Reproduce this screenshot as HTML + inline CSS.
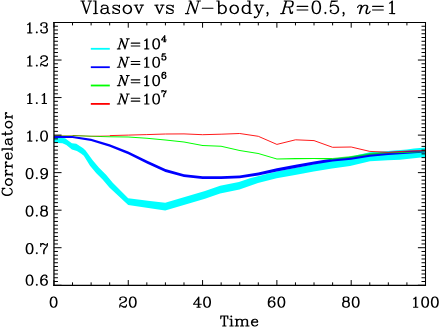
<!DOCTYPE html>
<html><head><meta charset="utf-8"><title>Vlasov vs N-body</title>
<style>
html,body{margin:0;padding:0;background:#fff;}
body{width:439px;height:327px;overflow:hidden;font-family:"Liberation Sans",sans-serif;}
svg{display:block;}
</style></head><body>
<svg width="439" height="327" viewBox="0 0 439 327">
<rect width="439" height="327" fill="#fff"/>
<g fill="#000" fill-rule="evenodd">
<path d="M168.2 4.66L166.99 5.26L166.16 6.09L166.16 7.83L166.99 8.66L172.31 11L172.73 11.41L172.73 12.17L172.31 12.58L171.33 13.07L169.14 13.07L168.16 12.58L167.63 12.05L167.11 10.96L166.8 10.69L166.43 10.69L166.16 10.92L166.09 11.19L166.13 13.79L166.43 14.09L166.8 14.09L167.11 13.83L167.37 13.3L168.8 14.09L171.67 14.09L172.88 13.49L173.71 12.66L173.71 10.32L172.88 9.49L167.56 7.15L167.14 6.73L167.14 6.58L167.56 6.17L168.54 5.68L170.73 5.68L171.71 6.17L172.24 6.7L172.77 7.79L173.07 8.05L173.45 8.05L173.71 7.83L173.78 7.56L173.75 4.96L173.45 4.66L173.07 4.66L172.77 4.92L172.5 5.45L171.07 4.66ZM154.28 4.7L154.01 5.15L154.28 5.6L155.41 5.71L158.88 13.83L159.18 14.09L159.64 14.05L159.94 13.68L163.33 5.71L164.47 5.6L164.69 5.34L164.65 4.88L164.2 4.62L160.58 4.62L160.13 4.88L160.09 5.34L160.39 5.64L162.16 5.75L159.64 11.6L157.15 5.71L158.43 5.6L158.65 5.34L158.62 4.88L158.16 4.62ZM133.75 4.7L133.49 5.15L133.75 5.6L134.88 5.71L138.36 13.83L138.66 14.09L139.11 14.05L139.41 13.68L142.81 5.71L143.94 5.6L144.17 5.34L144.13 4.88L143.68 4.62L140.05 4.62L139.6 4.88L139.56 5.34L139.86 5.64L141.64 5.75L139.11 11.6L136.62 5.71L137.9 5.6L138.13 5.34L138.09 4.88L137.64 4.62ZM126.77 4.62L124.7 5.3L123.38 6.58L122.66 8.54L122.62 9.98L123.3 12.05L124.58 13.37L126.55 14.09L127.98 14.13L130.05 13.45L131.37 12.17L132.09 10.2L132.13 8.77L131.45 6.7L130.17 5.37L128.21 4.66ZM126.88 5.68L127.87 5.68L128.85 6.17L129.94 7.26L130.47 8.81L130.47 9.94L129.94 11.49L128.85 12.58L127.87 13.07L126.88 13.07L125.9 12.58L124.81 11.49L124.28 9.94L124.28 8.81L124.81 7.26L125.9 6.17ZM114.47 4.66L113.26 5.26L112.43 6.09L112.43 7.83L113.26 8.66L118.58 11L119 11.41L119 12.17L118.58 12.58L117.6 13.07L115.41 13.07L114.43 12.58L113.91 12.05L113.38 10.96L113.08 10.69L112.7 10.69L112.43 10.92L112.36 11.19L112.4 13.79L112.7 14.09L113.08 14.09L113.38 13.83L113.64 13.3L115.08 14.09L117.94 14.09L119.15 13.49L119.98 12.66L119.98 10.32L119.15 9.49L113.83 7.15L113.41 6.73L113.41 6.58L113.83 6.17L114.81 5.68L117 5.68L117.98 6.17L118.51 6.7L119.04 7.79L119.34 8.05L119.72 8.05L119.98 7.83L120.06 7.56L120.02 4.96L119.72 4.66L119.34 4.66L119.04 4.92L118.77 5.45L117.34 4.66ZM101.04 5.98L100.89 6.36L100.93 7.15L101.15 7.41L101.42 7.49L102.28 7.41L102.55 6.96L102.47 6.13L103.34 5.68L105.53 5.68L106.51 6.17L106.93 6.58L106.93 7.34L106.59 7.68L103 8.28L101.3 8.85L100.93 9.15L100.32 10.36L100.28 11.79L100.93 13.22L101.15 13.45L103 14.09L105.04 14.13L106.47 13.49L107.3 12.69L107.83 13.49L109.04 14.09L109.87 14.13L110.32 13.86L110.32 13.34L110.06 13.11L109.49 13.07L109.08 12.66L108.59 11.68L108.55 7.34L107.94 6.13L107.23 5.37L105.87 4.66L103.23 4.62L101.79 5.26ZM106.93 8.73L106.93 11.56L105.91 12.58L104.93 13.07L103.34 13.07L102.4 12.58L101.94 11.68L101.94 10.69L102.44 9.75L103.42 9.26ZM93.38 0.43L93.12 0.66L93.04 0.92L93.3 1.38L94.85 1.49L94.85 13.03L93.38 13.11L93.08 13.41L93.08 13.79L93.3 14.05L93.57 14.13L97.98 14.09L98.25 13.86L98.32 13.6L98.06 13.15L96.51 13.03L96.47 0.73L96.25 0.47L95.98 0.39ZM80.7 0.43L80.4 0.73L80.44 1.19L80.7 1.41L81.76 1.53L85.8 13.71L86.06 14.05L86.51 14.09L86.85 13.71L90.89 1.53L92.02 1.38L92.25 1.11L92.25 0.73L92.02 0.47L91.76 0.39L88.13 0.39L87.68 0.66L87.64 1.11L87.95 1.41L89.76 1.45L89.8 1.56L86.63 11L83.46 1.56L83.49 1.45L84.78 1.38L85 1.11L84.97 0.66L84.51 0.39ZM188.82 0.43L188.56 0.66L188.48 0.92L188.75 1.38L190.07 1.45L190.11 1.56L186.79 13.07L185.2 13.11L184.9 13.41L184.9 13.79L185.13 14.05L185.39 14.13L189.01 14.13L189.47 13.86L189.5 13.41L189.28 13.15L187.96 13.07L187.92 12.96L190.6 3.68L194.48 13.64L194.79 14.05L195.24 14.09L195.62 13.6L199.05 1.49L200.67 1.41L200.97 1.11L200.97 0.73L200.75 0.47L200.48 0.39L196.86 0.39L196.41 0.66L196.37 1.11L196.6 1.38L197.92 1.45L197.96 1.56L195.28 10.85L191.28 0.66L190.82 0.39ZM267.43 11.86L267.06 12.02L266.45 12.62L266.3 13L266.45 13.37L267.06 13.98L267.47 14.17L267.02 15.07L266.34 15.83L266.38 16.28L266.83 16.54L267.21 16.39L267.92 15.64L268.57 14.2L268.53 12.81L267.81 12.02ZM201.71 8.17L201.78 8.43L202.23 8.69L213.1 8.69L213.36 8.62L213.63 8.17L213.55 7.9L213.1 7.64L202.23 7.64L201.97 7.71ZM264.08 4.7L260.19 4.62L259.74 4.88L259.7 5.34L260 5.64L261.77 5.75L259.25 11.6L256.76 5.71L258.04 5.6L258.27 5.34L258.23 4.88L257.77 4.62L254.15 4.62L253.7 4.88L253.66 5.34L253.89 5.6L255.02 5.71L258.38 13.52L257.36 15.68L256.23 16.81L255.85 17L255.13 16.24L254.76 16.09L254.38 16.24L253.78 16.84L253.66 17.41L254.38 18.2L254.76 18.35L255.59 18.32L256.79 17.71L258.27 16.24L259.55 13.68L262.94 5.71L264.08 5.6L264.34 5.15ZM233.63 4.62L231.55 5.3L230.23 6.58L229.51 8.54L229.48 9.98L230.16 12.05L231.44 13.37L233.4 14.09L234.83 14.13L236.91 13.45L238.23 12.17L238.95 10.2L238.98 8.77L238.31 6.7L237.02 5.37L235.06 4.66ZM233.74 5.68L234.72 5.68L235.7 6.17L236.8 7.26L237.32 8.81L237.32 9.94L236.8 11.49L235.7 12.58L234.72 13.07L233.74 13.07L232.76 12.58L231.66 11.49L231.14 9.94L231.14 8.81L231.66 7.26L232.76 6.17ZM247.32 0.43L247.06 0.66L246.98 0.92L247.25 1.38L248.79 1.49L248.79 5.6L248.34 5.26L246.91 4.62L245.47 4.66L243.51 5.37L242.23 6.7L241.59 8.54L241.59 10.2L242.15 11.9L243.63 13.45L245.47 14.09L247.13 14.09L248.34 13.49L248.76 13.11L248.83 13.79L249.13 14.09L251.93 14.09L252.19 13.86L252.27 13.6L252 13.15L250.45 13.03L250.42 0.73L250.19 0.47L249.93 0.39ZM245.81 5.68L246.79 5.68L247.78 6.17L248.79 7.19L248.79 11.56L247.78 12.58L246.79 13.07L245.81 13.07L244.83 12.58L243.74 11.49L243.21 9.94L243.21 8.81L243.74 7.26L244.83 6.17ZM216.46 0.47L216.19 0.92L216.46 1.38L218.01 1.49L218.08 13.86L218.53 14.13L218.84 14.02L219.33 14.09L219.63 13.79L219.7 13.11L220.12 13.49L221.55 14.13L222.99 14.09L224.84 13.45L226.23 12.05L226.87 10.2L226.87 8.54L226.23 6.7L224.84 5.3L222.76 4.62L221.33 4.66L220.12 5.26L219.7 5.64L219.59 0.66L219.14 0.39ZM221.67 5.68L222.65 5.68L223.63 6.17L224.72 7.26L225.25 8.81L225.25 9.94L224.72 11.49L223.63 12.58L222.65 13.07L221.67 13.07L220.68 12.58L219.67 11.56L219.67 7.19L220.68 6.17ZM283.95 0.47L283.69 0.92L283.95 1.38L285.27 1.45L285.31 1.56L282.03 13.03L280.41 13.11L280.1 13.41L280.14 13.86L280.59 14.13L285.08 14.05L285.35 13.6L285.08 13.15L283.76 13.07L283.73 12.96L285.27 7.56L287.73 7.49L288.71 7.98L289.16 8.43L289.69 12.88L289.88 13.37L290.67 14.09L292.33 14.05L292.56 13.83L293.16 12.62L293.16 11.6L292.86 11.3L292.4 11.34L292.18 11.6L292.14 12.17L291.84 12.47L291.69 12.47L291.31 12.09L290.18 8.05L289.76 7.53L290.48 7.45L292.18 6.88L293.12 6.02L293.8 3.94L293.76 2.51L293.16 1.3L292.78 1L290.86 0.39ZM287.01 1.49L290.74 1.45L291.65 1.9L292.14 2.85L292.14 3.9L291.61 5.45L291.12 5.94L290.14 6.43L285.65 6.43ZM343.5 11.86L343.12 12.02L342.52 12.62L342.37 13L342.52 13.37L343.12 13.98L343.54 14.17L343.08 15.07L342.41 15.83L342.44 16.28L342.9 16.54L343.27 16.39L343.99 15.64L344.63 14.2L344.59 12.81L343.88 12.02ZM325.39 11.86L325.01 12.02L324.41 12.62L324.26 13L324.41 13.37L325.01 13.98L325.39 14.13L325.77 13.98L326.37 13.37L326.52 13L326.37 12.62L325.77 12.02ZM296.49 9.98L296.56 10.24L297.02 10.51L307.88 10.51L308.15 10.43L308.41 9.98L308.33 9.71L307.88 9.45L297.02 9.45L296.75 9.53ZM296.49 6.36L296.56 6.62L297.02 6.88L307.88 6.88L308.15 6.81L308.41 6.36L308.33 6.09L307.88 5.83L297.02 5.83L296.75 5.9ZM331.24 0.43L330.97 0.66L329.69 6.81L329.77 7.22L330.03 7.45L330.41 7.45L331.73 6.2L333.27 5.68L334.94 5.68L335.92 6.17L337.01 7.26L337.54 8.81L337.54 9.94L337.01 11.49L335.92 12.58L334.94 13.07L333.27 13.07L331.73 12.54L331.24 12.05L331.05 11.68L331.8 10.96L331.92 10.39L331.01 9.49L330.56 9.53L329.84 10.2L329.69 10.58L329.73 11.41L330.33 12.62L331.05 13.37L333.01 14.09L335.05 14.13L336.97 13.52L338.52 12.05L339.16 10.2L339.16 8.54L338.44 6.58L337.12 5.3L335.27 4.66L333.24 4.62L331.12 5.34L331.77 2.05L334.6 2.05L337.43 1.49L337.92 1.19L337.95 0.73L337.73 0.47L337.46 0.39ZM315.73 0.39L313.65 1.07L312.26 3.04L311.58 6.2L311.58 8.32L312.18 11.3L313.47 13.3L313.81 13.52L315.5 14.09L316.94 14.13L319.01 13.45L320.41 11.49L321.09 8.32L321.09 6.2L320.48 3.22L319.2 1.22L318.86 1L317.16 0.43ZM315.84 1.45L316.82 1.45L317.81 1.94L318.33 2.47L318.86 3.53L319.43 6.36L319.43 8.17L318.86 11L318.33 12.05L317.81 12.58L316.82 13.07L315.84 13.07L314.86 12.58L314.33 12.05L313.81 11L313.24 8.17L313.24 6.36L313.81 3.53L314.33 2.47L314.86 1.94ZM357.02 7.34L357.05 7.83L357.32 8.05L357.69 8.05L358 7.79L358.52 6.7L359.54 5.68L360.3 5.68L360.6 5.98L360.6 6.96L358.83 13.34L358.83 13.79L359.13 14.09L359.62 14.02L359.92 14.13L360.37 13.86L361.62 9.56L362.75 7.3L363.88 6.17L364.86 5.68L365.73 5.68L366.64 6.58L366.64 7.53L365.43 11.19L365.47 13.18L366.18 13.98L366.56 14.13L368.64 14.05L369.96 12.77L370.67 11.41L370.64 10.92L370.37 10.69L369.99 10.69L369.69 10.96L369.16 12.05L368.15 13.07L367.39 13.07L367.09 12.77L367.09 11.22L368.26 7.79L368.3 6.36L368.15 5.98L367.54 5.37L366.18 4.66L364.52 4.66L363.32 5.26L362.3 6.24L362.18 5.49L361.39 4.7L359.13 4.66L357.73 5.98ZM371.95 9.98L372.02 10.24L372.48 10.51L383.34 10.51L383.61 10.43L383.87 9.98L383.8 9.71L383.34 9.45L372.48 9.45L372.21 9.53ZM371.95 6.36L372.02 6.62L372.48 6.88L383.34 6.88L383.61 6.81L383.87 6.36L383.8 6.09L383.34 5.83L372.48 5.83L372.21 5.9ZM392.59 0.43L392.02 0.54L390.25 2.32L389.15 2.85L388.89 3.15L388.93 3.6L389.38 3.87L390.81 3.22L391.27 2.88L391.27 13.03L389.12 13.15L388.85 13.6L388.93 13.86L389.19 14.09L394.81 14.13L395.08 14.05L395.31 13.79L395.31 13.41L395 13.11L392.93 13.03L392.93 0.92L392.85 0.66Z"/>
<path d="M254.32 318.74L252.64 319.28L251.53 320.33L250.93 321.95L250.9 323.12L251.44 324.8L252.49 325.91L254.11 326.51L255.28 326.54L257.11 325.91L258.16 324.8L258.22 324.56L258.1 324.23L257.83 324.05L257.44 324.08L256.39 325.07L255.22 325.46L254.44 325.46L253.72 325.1L252.85 324.23L252.46 323.06L252.46 322.73L257.83 322.67L258.01 322.58L258.19 322.31L258.22 321.2L257.71 320.03L256.93 319.25L255.76 318.74ZM252.67 321.59L252.85 321.05L253.72 320.18L254.44 319.82L255.64 319.82L256.3 320.15L256.66 320.84L256.63 321.62ZM234.64 319.04L234.61 319.43L234.88 319.76L236.02 319.85L236.02 325.43L235.12 325.46L234.79 325.58L234.58 326L234.64 326.24L234.88 326.48L238.48 326.54L238.9 326.33L239.02 326L238.81 325.58L238.48 325.46L237.58 325.43L237.58 320.96L238.33 320.21L239.5 319.82L240.28 319.82L240.94 320.15L241.3 320.84L241.3 325.43L240.4 325.46L240.07 325.58L239.86 326L239.92 326.24L240.16 326.48L243.76 326.54L244.18 326.33L244.3 326L244.09 325.58L243.76 325.46L242.86 325.43L242.86 320.96L243.61 320.21L244.78 319.82L245.56 319.82L246.22 320.15L246.58 320.84L246.58 325.43L245.68 325.46L245.35 325.58L245.14 326L245.26 326.33L245.68 326.54L249.04 326.54L249.28 326.48L249.52 326.24L249.55 325.85L249.28 325.52L248.14 325.43L248.14 320.72L247.63 319.55L247.24 319.22L245.89 318.77L244.72 318.74L243.16 319.22L242.47 319.79L242.08 319.28L240.4 318.74L239.23 318.77L237.64 319.37L237.46 318.95L237.04 318.74L235.12 318.74L234.88 318.8ZM229.6 318.8L229.36 319.04L229.3 319.28L229.51 319.7L229.84 319.82L230.74 319.85L230.74 325.43L229.6 325.52L229.36 325.76L229.36 326.24L229.6 326.48L229.84 326.54L233.44 326.48L233.68 326.24L233.74 326L233.53 325.58L233.2 325.46L232.3 325.43L232.24 319.04L232 318.8L231.76 318.74ZM231.28 315.38L230.89 315.53L230.41 316.01L230.26 316.4L230.41 316.79L230.89 317.27L231.28 317.42L231.67 317.27L232.15 316.79L232.3 316.4L232.15 316.01L231.67 315.53ZM220.48 315.44L220.24 315.68L220.18 315.92L220.18 318.8L220.24 319.04L220.48 319.28L220.87 319.31L221.2 319.04L221.68 316.46L223.54 316.49L223.54 325.43L222.4 325.52L222.16 325.76L222.16 326.24L222.4 326.48L222.64 326.54L226.24 326.48L226.48 326.24L226.54 326L226.33 325.58L226 325.46L225.1 325.43L225.1 316.49L226.96 316.46L227.38 318.89L227.68 319.28L228.07 319.31L228.34 319.13L228.46 318.8L228.4 315.68L228.16 315.44L227.92 315.38Z"/>
<path d="M4.95 119L5.2 119.24L5.44 119.3L5.86 119.09L5.98 118.76L6.01 117.85L11.63 117.85L11.72 119L11.96 119.24L12.44 119.24L12.68 119L12.74 118.76L12.68 115.14L12.44 114.9L12.2 114.84L11.78 115.05L11.66 115.38L11.63 116.28L8.4 116.28L7.22 115.89L6.34 115.02L5.98 114.29L5.98 113.87L6.4 113.99L6.8 113.84L7.37 113.21L7.37 112.72L6.65 112L5.68 112L5.05 112.57L4.92 112.81L4.89 114.41L5.41 115.59L6.01 116.25L5.29 116.31L4.95 116.59ZM4.89 125.04L5.44 126.73L6.49 127.85L8.12 128.45L9.3 128.48L10.99 127.94L12.11 126.88L12.71 125.25L12.74 124.07L12.2 122.38L11.14 121.27L9.51 120.66L8.34 120.63L6.65 121.17L5.53 122.23L4.92 123.86ZM5.98 124.92L5.98 124.19L6.34 123.47L7.22 122.59L8.4 122.2L9.24 122.2L10.42 122.59L11.29 123.47L11.66 124.19L11.66 124.92L11.29 125.64L10.42 126.52L9.24 126.91L8.4 126.91L7.22 126.52L6.34 125.64ZM6.01 144.75L6.4 144.9L7.04 144.87L7.31 144.69L7.43 144.36L7.43 143.88L7.31 143.54L6.89 143.33L6.28 143.36L5.98 142.79L5.98 141.1L6.34 140.37L6.65 140.07L7.13 140.07L7.37 140.34L7.82 143.12L8.28 144.48L8.49 144.78L9.51 145.32L10.75 145.38L11.02 145.32L12.14 144.69L12.71 143.12L12.74 141.46L12.23 140.28L11.69 139.68L12.14 139.38L12.68 138.35L12.74 137.6L12.53 137.17L12.2 137.05L11.87 137.17L11.69 137.45L11.66 137.84L11.35 138.14L10.63 138.5L7.22 138.53L6.19 139.02L5.53 139.62L4.89 140.98L4.89 142.91L5.41 144.09ZM8.46 140.07L10.51 140.07L11.29 140.86L11.66 141.58L11.66 142.79L11.29 143.48L10.63 143.82L9.91 143.82L9.21 143.45L8.85 142.73ZM4.89 156.43L5.44 158.12L6.49 159.24L8.12 159.84L9.3 159.87L10.99 159.33L12.11 158.28L12.71 156.64L12.74 155.47L12.11 153.63L10.99 152.57L10.75 152.51L10.42 152.63L10.24 152.9L10.27 153.29L11.26 154.35L11.66 155.53L11.66 156.31L11.29 157.04L10.42 157.91L9.24 158.31L8.91 158.31L8.85 152.9L8.76 152.72L8.49 152.54L7.37 152.51L6.19 153.02L5.41 153.81L4.89 154.98ZM7.76 158.09L7.22 157.91L6.34 157.04L5.98 156.31L5.98 155.11L6.31 154.44L7.01 154.08L7.79 154.11ZM4.95 168.27L5.2 168.51L5.44 168.57L5.86 168.36L5.98 168.03L6.01 167.12L11.63 167.12L11.72 168.27L11.96 168.51L12.44 168.51L12.68 168.27L12.74 168.03L12.68 164.4L12.44 164.16L12.2 164.1L11.78 164.31L11.66 164.64L11.63 165.55L8.4 165.55L7.22 165.16L6.34 164.28L5.98 163.56L5.98 163.14L6.4 163.26L6.8 163.11L7.37 162.47L7.37 161.99L6.65 161.26L5.68 161.26L5.05 161.84L4.92 162.08L4.89 163.68L5.41 164.86L6.01 165.52L5.29 165.58L4.95 165.85ZM4.95 176.48L5.2 176.72L5.44 176.78L5.86 176.57L5.98 176.24L6.01 175.33L11.63 175.33L11.72 176.48L11.96 176.72L12.44 176.72L12.68 176.48L12.74 176.24L12.68 172.61L12.44 172.37L12.2 172.31L11.78 172.52L11.66 172.86L11.63 173.76L8.4 173.76L7.22 173.37L6.34 172.49L5.98 171.77L5.98 171.35L6.4 171.47L6.8 171.32L7.37 170.68L7.37 170.2L6.65 169.47L5.68 169.47L5.05 170.05L4.92 170.29L4.89 171.89L5.41 173.07L6.01 173.73L5.29 173.79L4.95 174.06ZM4.89 182.52L5.44 184.21L6.49 185.32L8.12 185.93L9.3 185.96L10.99 185.41L12.11 184.36L12.71 182.73L12.74 181.55L12.2 179.86L11.14 178.74L9.51 178.14L8.34 178.11L6.65 178.65L5.53 179.71L4.92 181.34ZM5.98 182.39L5.98 181.67L6.34 180.95L7.22 180.07L8.4 179.68L9.24 179.68L10.42 180.07L11.29 180.95L11.66 181.67L11.66 182.39L11.29 183.12L10.42 183.99L9.24 184.39L8.4 184.39L7.22 183.99L6.34 183.12ZM1.54 134.37L1.72 134.64L2.06 134.76L4.86 134.76L4.95 135.91L5.2 136.15L5.59 136.18L5.77 136.09L5.95 135.82L6.01 134.76L10.27 134.76L11.96 134.22L12.23 133.94L12.68 133.04L12.71 131.65L12.05 130.41L11.02 129.87L10.6 129.84L10.27 130.11L10.24 130.5L10.54 130.86L11.32 131.26L11.66 131.92L11.66 132.53L11.38 132.8L10.21 133.19L6.01 133.19L5.95 131.65L5.77 131.38L5.44 131.26L5.11 131.38L4.92 131.65L4.86 133.19L1.82 133.25L1.54 133.58ZM1.57 150.88L1.82 151.12L2.06 151.18L2.48 150.97L2.6 150.64L2.63 149.73L11.63 149.73L11.72 150.88L11.96 151.12L12.44 151.12L12.68 150.88L12.74 150.64L12.68 147.02L12.44 146.77L12.2 146.71L11.78 146.92L11.66 147.26L11.63 148.16L1.82 148.22L1.57 148.46L1.51 148.71ZM1.54 188.16L1.54 188.46L1.72 188.73L2.48 189.04L2 189.64L1.54 191L1.54 192.39L2.15 194.02L3.29 195.1L4.2 195.56L5.71 196.07L8.34 196.1L9.91 195.62L10.96 195.1L12.2 193.87L12.71 192.39L12.71 191L12.11 189.37L10.96 188.28L9.79 187.77L9.45 187.89L9.24 188.31L9.45 188.73L10.39 189.22L11.26 190.09L11.66 191.27L11.66 192.05L11.29 192.78L10.39 193.68L9.54 194.11L8.28 194.53L5.98 194.53L4.71 194.11L3.87 193.68L2.96 192.78L2.6 192.05L2.6 191.27L2.99 190.09L3.84 189.25L5.29 188.73L5.5 188.31L5.38 187.98L4.95 187.77L2.06 187.77L1.72 187.89Z"/>
<path d="M36.82 283.79L36.43 283.94L35.94 284.42L35.79 284.82L35.94 285.21L36.43 285.69L36.82 285.84L37.21 285.69L37.7 285.21L37.85 284.82L37.7 284.42L37.21 283.94ZM45.53 274.59L43.87 274.62L42.23 275.23L41.15 276.38L40.69 277.28L40.18 279.28L40.15 282.4L40.63 283.97L40.78 284.24L41.75 285.21L43.38 285.81L44.78 285.81L46.41 285.21L47.38 284.24L47.98 282.61L47.98 281.7L47.47 280.22L46.41 279.1L46.14 278.95L44.78 278.49L44.08 278.46L42.51 278.95L41.72 279.55L42.14 277.8L42.57 276.95L43.47 276.04L44.2 275.68L45.41 275.68L46.11 276.04L46.17 276.16L45.62 276.68L45.47 277.07L45.62 277.47L46.26 278.04L46.74 278.04L47.38 277.47L47.53 277.07L47.53 276.59L47.01 275.41L46.71 275.11ZM44.44 279.55L45.17 279.92L46.05 280.79L46.44 281.97L46.44 282.34L46.05 283.52L45.17 284.39L44.44 284.76L43.72 284.76L42.99 284.39L42.11 283.52L41.72 282.34L41.72 281.97L42.11 280.79L42.96 279.95L44.14 279.55ZM29.08 274.59L27.29 275.2L26.11 276.95L25.63 279.37L25.63 281.06L26.11 283.49L27.14 285.09L27.5 285.36L28.86 285.81L30.04 285.84L31.83 285.24L33.01 283.49L33.49 281.06L33.49 279.37L33.01 276.95L31.98 275.35L31.62 275.08L30.26 274.62ZM29.2 275.68L29.92 275.68L30.65 276.04L31.07 276.47L31.47 277.25L31.92 279.49L31.92 280.94L31.47 283.18L31.07 283.97L30.65 284.39L29.92 284.76L29.2 284.76L28.47 284.39L28.05 283.97L27.65 283.18L27.2 280.94L27.2 279.49L27.65 277.25L28.05 276.47L28.47 276.04Z"/>
<path d="M36.82 252.18L36.43 252.34L35.94 252.82L35.79 253.21L35.94 253.61L36.43 254.09L36.82 254.24L37.21 254.09L37.7 253.61L37.85 253.21L37.7 252.82L37.21 252.34ZM40.45 243.05L40.21 243.29L40.15 243.53L40.15 246.44L40.21 246.68L40.45 246.92L40.84 246.95L41.12 246.77L41.24 246.44L41.24 245.59L41.57 244.92L42.26 244.56L43.02 244.56L45.32 245.5L46.71 245.5L46.53 246.1L44.05 248.64L43.6 249.55L43.08 251.06L43.11 253.94L43.44 254.21L44.32 254.18L44.56 253.94L44.62 253.7L44.62 251.34L45.05 250.07L45.53 249.1L47.53 246.56L48.01 244.98L47.95 243.29L47.71 243.05L47.23 243.05L46.95 243.32L46.56 244.14L46.26 244.44L45.65 244.44L43.26 243.02L41.99 243.02L41.75 243.14L41.27 243.62L41.02 243.11L40.69 242.99ZM29.08 242.99L27.29 243.59L26.11 245.35L25.63 247.77L25.63 249.46L26.11 251.88L27.14 253.48L27.5 253.76L28.86 254.21L30.04 254.24L31.83 253.64L33.01 251.88L33.49 249.46L33.49 247.77L33.01 245.35L31.98 243.74L31.62 243.47L30.26 243.02ZM29.2 244.08L29.92 244.08L30.65 244.44L31.07 244.86L31.47 245.65L31.92 247.89L31.92 249.34L31.47 251.58L31.07 252.37L30.65 252.79L29.92 253.15L29.2 253.15L28.47 252.79L28.05 252.37L27.65 251.58L27.2 249.34L27.2 247.89L27.65 245.65L28.05 244.86L28.47 244.44Z"/>
<path d="M36.82 214.65L36.43 214.8L35.94 215.28L35.79 215.68L35.94 216.07L36.43 216.55L36.82 216.71L37.21 216.55L37.7 216.07L37.85 215.68L37.7 215.28L37.21 214.8ZM42.9 205.48L41.33 206.06L40.69 207.18L40.66 209.05L41.15 210.08L41.42 210.35L40.78 210.93L40.21 212.02L40.18 214.38L40.78 215.59L41.54 216.22L43.11 216.71L45.26 216.67L46.89 216.07L47.5 215.4L47.98 214.38L47.95 212.02L47.38 210.93L46.74 210.35L47.01 210.08L47.5 209.05L47.5 207.3L47.01 206.27L46.62 205.94L45.05 205.45ZM43.23 210.9L44.93 210.9L45.65 211.26L46.08 211.68L46.44 212.41L46.44 214.1L46.08 214.83L45.65 215.25L44.93 215.62L43.23 215.62L42.51 215.25L42.08 214.83L41.72 214.1L41.72 212.41L42.08 211.68L42.51 211.26ZM42.54 206.9L43.23 206.54L44.93 206.54L45.59 206.87L45.96 207.57L45.96 208.78L45.62 209.45L44.93 209.81L43.23 209.81L42.57 209.48L42.2 208.78L42.2 207.57ZM29.08 205.45L27.29 206.06L26.11 207.81L25.63 210.23L25.63 211.93L26.11 214.35L27.14 215.95L27.5 216.22L28.86 216.67L30.04 216.71L31.83 216.1L33.01 214.35L33.49 211.93L33.49 210.23L33.01 207.81L31.98 206.21L31.62 205.94L30.26 205.48ZM29.2 206.54L29.92 206.54L30.65 206.9L31.07 207.33L31.47 208.11L31.92 210.35L31.92 211.8L31.47 214.04L31.07 214.83L30.65 215.25L29.92 215.62L29.2 215.62L28.47 215.25L28.05 214.83L27.65 214.04L27.2 211.8L27.2 210.35L27.65 208.11L28.05 207.33L28.47 206.9Z"/>
<path d="M36.82 177.11L36.43 177.26L35.94 177.75L35.79 178.14L35.94 178.53L36.43 179.02L36.82 179.17L37.21 179.02L37.7 178.53L37.85 178.14L37.7 177.75L37.21 177.26ZM44.78 167.95L43.38 167.95L41.75 168.55L40.78 169.52L40.18 171.15L40.18 172.06L40.69 173.54L41.75 174.66L42.02 174.81L43.38 175.27L44.08 175.3L45.65 174.81L46.44 174.21L46.02 175.96L45.59 176.81L44.68 177.72L43.96 178.08L42.75 178.08L42.05 177.72L41.99 177.6L42.54 177.08L42.69 176.69L42.54 176.3L41.9 175.72L41.42 175.72L40.78 176.3L40.63 176.69L40.63 177.17L41.15 178.35L41.45 178.66L42.63 179.17L44.29 179.14L45.92 178.53L47.01 177.38L47.47 176.48L47.98 174.48L48.01 171.36L47.53 169.79L47.38 169.52L46.41 168.55ZM44.44 169.01L45.17 169.37L46.05 170.25L46.44 171.43L46.44 171.79L46.05 172.97L45.2 173.82L44.02 174.21L43.72 174.21L42.99 173.85L42.11 172.97L41.72 171.79L41.72 171.43L42.11 170.25L42.99 169.37L43.72 169.01ZM29.08 167.92L27.29 168.52L26.11 170.28L25.63 172.7L25.63 174.39L26.11 176.81L27.14 178.41L27.5 178.69L28.86 179.14L30.04 179.17L31.83 178.56L33.01 176.81L33.49 174.39L33.49 172.7L33.01 170.28L31.98 168.67L31.62 168.4L30.26 167.95ZM29.2 169.01L29.92 169.01L30.65 169.37L31.07 169.79L31.47 170.58L31.92 172.82L31.92 174.27L31.47 176.51L31.07 177.29L30.65 177.72L29.92 178.08L29.2 178.08L28.47 177.72L28.05 177.29L27.65 176.51L27.2 174.27L27.2 172.82L27.65 170.58L28.05 169.79L28.47 169.37Z"/>
<path d="M36.82 139.58L36.43 139.73L35.94 140.21L35.79 140.61L35.94 141L36.43 141.48L36.82 141.63L37.21 141.48L37.7 141L37.85 140.61L37.7 140.21L37.21 139.73ZM43.6 130.38L41.81 130.99L40.63 132.74L40.15 135.16L40.15 136.85L40.63 139.27L41.66 140.88L42.02 141.15L43.38 141.6L44.56 141.63L46.35 141.03L47.53 139.27L48.01 136.85L48.01 135.16L47.53 132.74L46.5 131.14L46.14 130.86L44.78 130.41ZM43.72 131.47L44.44 131.47L45.17 131.83L45.59 132.26L45.99 133.04L46.44 135.28L46.44 136.73L45.99 138.97L45.59 139.76L45.17 140.18L44.44 140.54L43.72 140.54L42.99 140.18L42.57 139.76L42.17 138.97L41.72 136.73L41.72 135.28L42.17 133.04L42.57 132.26L42.99 131.83ZM30.19 130.41L29.89 130.41L29.65 130.53L28.23 131.95L27.41 132.35L27.11 132.71L27.2 133.19L27.62 133.41L29.02 132.8L29.02 140.51L27.62 140.54L27.29 140.67L27.08 141.09L27.2 141.42L27.47 141.6L31.98 141.63L32.31 141.51L32.49 141.24L32.46 140.85L32.22 140.61L30.59 140.51L30.59 130.93L30.47 130.59Z"/>
<path d="M36.82 102.04L36.43 102.19L35.94 102.68L35.79 103.07L35.94 103.46L36.43 103.95L36.82 104.1L37.21 103.95L37.7 103.46L37.85 103.07L37.7 102.68L37.21 102.19ZM44.71 92.88L44.41 92.88L44.17 93L42.75 94.42L41.93 94.81L41.63 95.17L41.72 95.66L42.14 95.87L43.54 95.26L43.54 102.98L42.14 103.01L41.81 103.13L41.6 103.55L41.72 103.89L41.99 104.07L46.5 104.1L46.83 103.98L47.01 103.7L46.98 103.31L46.74 103.07L45.11 102.98L45.11 93.39L44.99 93.06ZM30.19 92.88L29.89 92.88L29.65 93L28.23 94.42L27.41 94.81L27.11 95.17L27.2 95.66L27.62 95.87L29.02 95.26L29.02 102.98L27.62 103.01L27.29 103.13L27.08 103.55L27.2 103.89L27.47 104.07L31.98 104.1L32.31 103.98L32.49 103.7L32.46 103.31L32.22 103.07L30.59 102.98L30.59 93.39L30.47 93.06Z"/>
<path d="M36.82 64.51L36.43 64.66L35.94 65.14L35.79 65.53L35.94 65.93L36.43 66.41L36.82 66.56L37.21 66.41L37.7 65.93L37.85 65.53L37.7 65.14L37.21 64.66ZM41.54 55.79L40.78 56.43L40.15 57.79L40.21 58.52L40.93 59.24L41.18 59.3L41.57 59.15L42.05 58.67L42.17 58.42L42.17 58.12L42.05 57.88L41.51 57.37L41.6 57.18L41.99 56.79L43.17 56.4L44.93 56.4L45.65 56.76L46.08 57.18L46.44 57.91L46.44 58.64L45.99 59.42L44.81 60.21L41.93 61.63L40.78 62.72L40.18 64.35L40.21 66.26L40.45 66.5L40.93 66.5L41.21 66.17L41.24 65.29L41.42 65.11L42.02 65.11L44.41 66.53L46.74 66.5L47.38 65.93L47.95 64.84L48.01 63.6L47.95 63.36L47.71 63.11L47.32 63.08L47.04 63.26L46.92 63.6L46.92 64.32L46.62 64.63L45.89 64.99L44.65 64.99L42.36 64.05L41.45 63.99L41.63 63.45L42.51 62.57L43.35 62.15L45.68 61.24L47.26 60.21L47.5 59.94L47.95 59.03L47.95 57.52L47.38 56.43L46.89 55.94L45.26 55.34L43.11 55.31ZM30.19 55.34L29.89 55.34L29.65 55.46L28.23 56.88L27.41 57.28L27.11 57.64L27.2 58.12L27.62 58.33L29.02 57.73L29.02 65.44L27.62 65.47L27.29 65.59L27.08 66.02L27.2 66.35L27.47 66.53L31.98 66.56L32.31 66.44L32.49 66.17L32.46 65.78L32.22 65.53L30.59 65.44L30.59 55.85L30.47 55.52Z"/>
<path d="M36.82 31.35L36.43 31.5L35.94 31.99L35.79 32.38L35.94 32.77L36.43 33.26L36.82 33.41L37.21 33.26L37.7 32.77L37.85 32.38L37.7 31.99L37.21 31.5ZM42.9 22.19L41.42 22.7L40.78 23.27L40.21 24.36L40.21 25.36L40.93 26.09L41.18 26.15L41.57 26L42.05 25.51L42.2 25.12L42.05 24.73L41.51 24.21L41.6 24.03L41.99 23.64L43.17 23.24L44.93 23.24L45.59 23.58L45.96 24.27L45.96 25.48L45.62 26.15L44.93 26.51L43.35 26.57L43.11 26.81L43.05 27.06L43.11 27.3L43.35 27.54L44.93 27.6L45.65 27.96L46.05 28.36L46.44 29.54L46.44 30.81L46.08 31.53L45.65 31.96L44.93 32.32L43.17 32.32L41.99 31.93L41.6 31.53L41.51 31.35L42.05 30.84L42.2 30.44L42.05 30.05L41.57 29.57L41.18 29.42L40.78 29.57L40.3 30.05L40.15 30.44L40.18 31.08L40.78 32.29L41.54 32.92L43.11 33.41L45.26 33.38L46.89 32.77L47.5 32.11L47.98 31.08L47.95 29.2L47.38 28.11L46.44 27.18L46.92 26.9L47.47 25.88L47.5 24L47.01 22.97L46.62 22.64L45.05 22.16ZM30.19 22.19L29.89 22.19L29.65 22.31L28.23 23.73L27.41 24.12L27.11 24.48L27.2 24.97L27.62 25.18L29.02 24.58L29.02 32.29L27.62 32.32L27.29 32.44L27.08 32.86L27.2 33.2L27.47 33.38L31.98 33.41L32.31 33.29L32.49 33.02L32.46 32.62L32.22 32.38L30.59 32.29L30.59 22.7L30.47 22.37Z"/>
<path d="M53.12 296.49L51.33 297.1L50.15 298.85L49.67 301.27L49.67 302.96L50.15 305.38L51.18 306.99L51.54 307.26L52.9 307.71L54.08 307.74L55.87 307.14L57.05 305.38L57.53 302.96L57.53 301.27L57.05 298.85L56.02 297.25L55.66 296.98L54.3 296.52ZM53.24 297.58L53.96 297.58L54.69 297.94L55.11 298.37L55.51 299.15L55.96 301.39L55.96 302.84L55.51 305.08L55.11 305.87L54.69 306.29L53.96 306.66L53.24 306.66L52.51 306.29L52.09 305.87L51.69 305.08L51.24 302.84L51.24 301.39L51.69 299.15L52.09 298.37L52.51 297.94Z"/>
<path d="M132.27 296.49L130.48 297.1L129.3 298.85L128.82 301.27L128.82 302.96L129.3 305.38L130.33 306.99L130.69 307.26L132.05 307.71L133.23 307.74L135.02 307.14L136.2 305.38L136.68 302.96L136.68 301.27L136.2 298.85L135.17 297.25L134.81 296.98L133.45 296.52ZM132.39 297.58L133.11 297.58L133.84 297.94L134.26 298.37L134.66 299.15L135.11 301.39L135.11 302.84L134.66 305.08L134.26 305.87L133.84 306.29L133.11 306.66L132.39 306.66L131.66 306.29L131.24 305.87L130.84 305.08L130.39 302.84L130.39 301.39L130.84 299.15L131.24 298.37L131.66 297.94ZM120.53 296.98L119.77 297.61L119.14 298.97L119.2 299.7L119.92 300.42L120.17 300.48L120.56 300.33L121.04 299.85L121.16 299.61L121.16 299.3L121.04 299.06L120.5 298.55L120.59 298.37L120.98 297.97L122.16 297.58L123.92 297.58L124.64 297.94L125.07 298.37L125.43 299.09L125.43 299.82L124.98 300.61L123.8 301.39L120.92 302.81L119.77 303.9L119.17 305.54L119.2 307.44L119.44 307.68L119.92 307.68L120.2 307.35L120.23 306.47L120.41 306.29L121.01 306.29L123.4 307.71L125.73 307.68L126.37 307.11L126.94 306.02L127 304.78L126.94 304.54L126.7 304.3L126.31 304.27L126.03 304.45L125.91 304.78L125.91 305.51L125.61 305.81L124.88 306.17L123.64 306.17L121.35 305.23L120.44 305.17L120.62 304.63L121.5 303.75L122.34 303.33L124.67 302.42L126.25 301.39L126.49 301.12L126.94 300.21L126.94 298.7L126.37 297.61L125.88 297.13L124.25 296.52L122.1 296.49Z"/>
<path d="M206.58 296.49L204.79 297.1L203.61 298.85L203.13 301.27L203.13 302.96L203.61 305.38L204.64 306.99L205 307.26L206.36 307.71L207.54 307.74L209.33 307.14L210.51 305.38L210.99 302.96L210.99 301.27L210.51 298.85L209.48 297.25L209.12 296.98L207.76 296.52ZM206.7 297.58L207.42 297.58L208.15 297.94L208.57 298.37L208.97 299.15L209.42 301.39L209.42 302.84L208.97 305.08L208.57 305.87L208.15 306.29L207.42 306.66L206.7 306.66L205.97 306.29L205.55 305.87L205.15 305.08L204.7 302.84L204.7 301.39L205.15 299.15L205.55 298.37L205.97 297.94ZM198.83 296.49L198.38 296.7L193.05 303.96L192.96 304.3L193.08 304.63L193.51 304.84L197.77 304.84L197.8 306.63L196.74 306.69L196.56 306.78L196.38 307.05L196.47 307.53L196.9 307.74L200.28 307.74L200.62 307.62L200.83 307.2L200.62 306.78L200.28 306.66L199.38 306.63L199.38 304.87L201.4 304.81L201.68 304.63L201.8 304.3L201.68 303.96L201.4 303.78L199.38 303.72L199.38 297.04L199.26 296.7ZM197.77 299.43L197.8 303.72L194.66 303.75L194.69 303.6Z"/>
<path d="M280.89 296.49L279.1 297.1L277.92 298.85L277.44 301.27L277.44 302.96L277.92 305.38L278.95 306.99L279.31 307.26L280.67 307.71L281.85 307.74L283.64 307.14L284.82 305.38L285.3 302.96L285.3 301.27L284.82 298.85L283.79 297.25L283.43 296.98L282.07 296.52ZM281.01 297.58L281.73 297.58L282.46 297.94L282.88 298.37L283.28 299.15L283.73 301.39L283.73 302.84L283.28 305.08L282.88 305.87L282.46 306.29L281.73 306.66L281.01 306.66L280.28 306.29L279.86 305.87L279.46 305.08L279.01 302.84L279.01 301.39L279.46 299.15L279.86 298.37L280.28 297.94ZM273.14 296.49L271.48 296.52L269.84 297.13L268.76 298.28L268.3 299.18L267.79 301.18L267.76 304.3L268.24 305.87L268.39 306.14L269.36 307.11L270.99 307.71L272.39 307.71L274.02 307.11L274.99 306.14L275.59 304.51L275.59 303.6L275.08 302.12L274.02 301L273.75 300.85L272.39 300.39L271.69 300.36L270.12 300.85L269.33 301.45L269.75 299.7L270.18 298.85L271.08 297.94L271.81 297.58L273.02 297.58L273.72 297.94L273.78 298.06L273.23 298.58L273.08 298.97L273.23 299.37L273.87 299.94L274.35 299.94L274.99 299.37L275.14 298.97L275.14 298.49L274.62 297.31L274.32 297.01ZM272.05 301.45L272.78 301.82L273.66 302.69L274.05 303.87L274.05 304.24L273.66 305.42L272.78 306.29L272.05 306.66L271.33 306.66L270.6 306.29L269.72 305.42L269.33 304.24L269.33 303.87L269.72 302.69L270.57 301.85L271.75 301.45Z"/>
<path d="M355.2 296.49L353.41 297.1L352.23 298.85L351.75 301.27L351.75 302.96L352.23 305.38L353.26 306.99L353.62 307.26L354.98 307.71L356.16 307.74L357.95 307.14L359.13 305.38L359.61 302.96L359.61 301.27L359.13 298.85L358.1 297.25L357.74 296.98L356.38 296.52ZM355.32 297.58L356.04 297.58L356.77 297.94L357.19 298.37L357.59 299.15L358.04 301.39L358.04 302.84L357.59 305.08L357.19 305.87L356.77 306.29L356.04 306.66L355.32 306.66L354.59 306.29L354.17 305.87L353.77 305.08L353.32 302.84L353.32 301.39L353.77 299.15L354.17 298.37L354.59 297.94ZM344.82 296.52L343.25 297.1L342.61 298.22L342.58 300.09L343.07 301.12L343.34 301.39L342.7 301.97L342.13 303.06L342.1 305.42L342.7 306.63L343.46 307.26L345.03 307.74L347.18 307.71L348.81 307.11L349.42 306.44L349.9 305.42L349.87 303.06L349.3 301.97L348.66 301.39L348.93 301.12L349.42 300.09L349.42 298.34L348.93 297.31L348.54 296.98L346.97 296.49ZM345.15 301.94L346.85 301.94L347.57 302.3L348 302.72L348.36 303.45L348.36 305.14L348 305.87L347.57 306.29L346.85 306.66L345.15 306.66L344.43 306.29L344 305.87L343.64 305.14L343.64 303.45L344 302.72L344.43 302.3ZM344.46 297.94L345.15 297.58L346.85 297.58L347.51 297.91L347.88 298.61L347.88 299.82L347.54 300.48L346.85 300.85L345.15 300.85L344.49 300.51L344.12 299.82L344.12 298.61Z"/>
<path d="M434.35 296.49L432.56 297.1L431.38 298.85L430.9 301.27L430.9 302.96L431.38 305.38L432.41 306.99L432.77 307.26L434.13 307.71L435.31 307.74L437.1 307.14L438.28 305.38L438.76 302.96L438.76 301.27L438.28 298.85L437.25 297.25L436.89 296.98L435.53 296.52ZM434.47 297.58L435.19 297.58L435.92 297.94L436.34 298.37L436.74 299.15L437.19 301.39L437.19 302.84L436.74 305.08L436.34 305.87L435.92 306.29L435.19 306.66L434.47 306.66L433.74 306.29L433.32 305.87L432.92 305.08L432.47 302.84L432.47 301.39L432.92 299.15L433.32 298.37L433.74 297.94ZM424.67 296.49L422.88 297.1L421.7 298.85L421.22 301.27L421.22 302.96L421.7 305.38L422.73 306.99L423.09 307.26L424.45 307.71L425.63 307.74L427.42 307.14L428.6 305.38L429.08 302.96L429.08 301.27L428.6 298.85L427.57 297.25L427.21 296.98L425.85 296.52ZM424.79 297.58L425.51 297.58L426.24 297.94L426.66 298.37L427.06 299.15L427.51 301.39L427.51 302.84L427.06 305.08L426.66 305.87L426.24 306.29L425.51 306.66L424.79 306.66L424.06 306.29L423.64 305.87L423.24 305.08L422.79 302.84L422.79 301.39L423.24 299.15L423.64 298.37L424.06 297.94ZM416.11 296.52L415.8 296.52L415.56 296.64L414.14 298.06L413.32 298.46L413.02 298.82L413.11 299.3L413.53 299.52L414.93 298.91L414.93 306.63L413.53 306.66L413.2 306.78L412.99 307.2L413.11 307.53L413.38 307.71L417.89 307.74L418.22 307.62L418.4 307.35L418.37 306.96L418.13 306.72L416.5 306.63L416.5 297.04L416.38 296.7Z"/>
<path d="M119.92 38.34L119.65 38.67L119.74 39.15L120.01 39.33L120.88 39.42L118.3 48.36L117.04 48.42L116.8 48.66L116.8 49.14L117.04 49.38L117.28 49.44L120.16 49.44L120.4 49.38L120.64 49.14L120.67 48.75L120.49 48.48L120.16 48.36L119.44 48.3L121.45 41.4L124.42 49.05L124.72 49.38L125.2 49.38L125.5 49.02L128.23 39.39L129.52 39.3L129.76 39.06L129.76 38.58L129.52 38.34L129.28 38.28L126.4 38.28L126.16 38.34L125.92 38.58L125.89 38.97L126.07 39.24L126.4 39.36L127.12 39.42L125.11 46.32L122.11 38.61L121.84 38.34L121.6 38.28ZM130.66 46.02L130.78 46.35L131.2 46.56L139.84 46.56L140.17 46.44L140.38 46.02L140.26 45.69L139.84 45.48L131.2 45.48L130.87 45.6ZM130.66 43.14L130.78 43.47L131.2 43.68L139.84 43.68L140.17 43.56L140.38 43.14L140.26 42.81L139.84 42.6L131.2 42.6L130.87 42.72ZM155.68 38.28L153.91 38.88L152.74 40.62L152.26 43.02L152.26 44.7L152.74 47.1L153.76 48.69L154.12 48.96L155.47 49.41L156.64 49.44L158.41 48.84L159.58 47.1L160.06 44.7L160.06 43.02L159.58 40.62L158.56 39.03L158.2 38.76L156.85 38.31ZM155.8 39.36L156.52 39.36L157.24 39.72L157.66 40.14L158.05 40.92L158.5 43.14L158.5 44.58L158.05 46.8L157.66 47.58L157.24 48L156.52 48.36L155.8 48.36L155.08 48L154.66 47.58L154.27 46.8L153.82 44.58L153.82 43.14L154.27 40.92L154.66 40.14L155.08 39.72ZM147.19 38.31L146.89 38.31L146.65 38.43L145.24 39.84L144.43 40.23L144.13 40.59L144.22 41.07L144.64 41.28L146.02 40.68L146.02 48.33L144.64 48.36L144.31 48.48L144.1 48.9L144.22 49.23L144.49 49.41L148.96 49.44L149.29 49.32L149.47 49.05L149.44 48.66L149.2 48.42L147.58 48.33L147.58 38.82L147.46 38.49ZM164.96 34.95L164.7 34.95L164.4 35.13L161.13 39.6L161.05 39.78L161.11 40.17L161.24 40.32L161.43 40.42L163.99 40.44L164.01 41.16L163.45 41.22L163.23 41.38L163.14 41.57L163.19 41.96L163.32 42.11L163.51 42.2L165.72 42.22L165.98 42.15L166.21 41.89L166.21 41.51L166.13 41.38L165.91 41.22L165.35 41.16L165.35 40.45L166.45 40.42L166.63 40.32L166.82 40.04L166.76 39.65L166.5 39.43L165.35 39.38L165.35 35.45L165.24 35.13ZM163.99 37.48L164.01 39.38L162.62 39.39Z"/>
<path d="M119.92 56.71L119.65 57.04L119.74 57.52L120.01 57.7L120.88 57.79L118.3 66.73L117.04 66.79L116.8 67.03L116.8 67.51L117.04 67.75L117.28 67.81L120.16 67.81L120.4 67.75L120.64 67.51L120.67 67.12L120.49 66.85L120.16 66.73L119.44 66.67L121.45 59.77L124.42 67.42L124.72 67.75L125.2 67.75L125.5 67.39L128.23 57.76L129.52 57.67L129.76 57.43L129.76 56.95L129.52 56.71L129.28 56.65L126.4 56.65L126.16 56.71L125.92 56.95L125.89 57.34L126.07 57.61L126.4 57.73L127.12 57.79L125.11 64.69L122.11 56.98L121.84 56.71L121.6 56.65ZM130.66 64.39L130.78 64.72L131.2 64.93L139.84 64.93L140.17 64.81L140.38 64.39L140.26 64.06L139.84 63.85L131.2 63.85L130.87 63.97ZM130.66 61.51L130.78 61.84L131.2 62.05L139.84 62.05L140.17 61.93L140.38 61.51L140.26 61.18L139.84 60.97L131.2 60.97L130.87 61.09ZM155.68 56.65L153.91 57.25L152.74 58.99L152.26 61.39L152.26 63.07L152.74 65.47L153.76 67.06L154.12 67.33L155.47 67.78L156.64 67.81L158.41 67.21L159.58 65.47L160.06 63.07L160.06 61.39L159.58 58.99L158.56 57.4L158.2 57.13L156.85 56.68ZM155.8 57.73L156.52 57.73L157.24 58.09L157.66 58.51L158.05 59.29L158.5 61.51L158.5 62.95L158.05 65.17L157.66 65.95L157.24 66.37L156.52 66.73L155.8 66.73L155.08 66.37L154.66 65.95L154.27 65.17L153.82 62.95L153.82 61.51L154.27 59.29L154.66 58.51L155.08 58.09ZM147.19 56.68L146.89 56.68L146.65 56.8L145.24 58.21L144.43 58.6L144.13 58.96L144.22 59.44L144.64 59.65L146.02 59.05L146.02 66.7L144.64 66.73L144.31 66.85L144.1 67.27L144.22 67.6L144.49 67.78L148.96 67.81L149.29 67.69L149.47 67.42L149.44 67.03L149.2 66.79L147.58 66.7L147.58 57.19L147.46 56.86ZM162.26 53.34L162.04 53.5L161.93 53.75L161.33 56.8L161.41 57.06L161.67 57.28L161.98 57.3L162.22 57.17L162.75 56.65L163.42 56.42L164.1 56.42L164.51 56.63L164.98 57.09L165.2 57.76L165.2 58.21L164.98 58.88L164.51 59.34L164.1 59.55L163.42 59.55L162.75 59.33L162.6 59.18L162.93 58.77L162.93 58.4L162.52 57.91L162.28 57.78L162.02 57.78L161.78 57.91L161.37 58.4L161.33 58.88L161.39 59.14L161.67 59.7L162.08 60.14L162.28 60.27L163.17 60.57L164.4 60.57L165.29 60.27L165.5 60.14L166.09 59.55L166.22 59.34L166.52 58.45L166.52 57.52L166.22 56.63L166.09 56.42L165.5 55.83L165.29 55.7L164.4 55.4L163.34 55.38L162.65 55.59L162.63 55.49L162.82 54.64L163.94 54.64L165.5 54.34L165.74 54.23L165.87 54.08L165.94 53.82L165.91 53.63L165.74 53.41L165.42 53.3Z"/>
<path d="M119.92 75.08L119.65 75.41L119.74 75.89L120.01 76.07L120.88 76.16L118.3 85.1L117.04 85.16L116.8 85.4L116.8 85.88L117.04 86.12L117.28 86.18L120.16 86.18L120.4 86.12L120.64 85.88L120.67 85.49L120.49 85.22L120.16 85.1L119.44 85.04L121.45 78.14L124.42 85.79L124.72 86.12L125.2 86.12L125.5 85.76L128.23 76.13L129.52 76.04L129.76 75.8L129.76 75.32L129.52 75.08L129.28 75.02L126.4 75.02L126.16 75.08L125.92 75.32L125.89 75.71L126.07 75.98L126.4 76.1L127.12 76.16L125.11 83.06L122.11 75.35L121.84 75.08L121.6 75.02ZM130.66 82.76L130.78 83.09L131.2 83.3L139.84 83.3L140.17 83.18L140.38 82.76L140.26 82.43L139.84 82.22L131.2 82.22L130.87 82.34ZM130.66 79.88L130.78 80.21L131.2 80.42L139.84 80.42L140.17 80.3L140.38 79.88L140.26 79.55L139.84 79.34L131.2 79.34L130.87 79.46ZM155.68 75.02L153.91 75.62L152.74 77.36L152.26 79.76L152.26 81.44L152.74 83.84L153.76 85.43L154.12 85.7L155.47 86.15L156.64 86.18L158.41 85.58L159.58 83.84L160.06 81.44L160.06 79.76L159.58 77.36L158.56 75.77L158.2 75.5L156.85 75.05ZM155.8 76.1L156.52 76.1L157.24 76.46L157.66 76.88L158.05 77.66L158.5 79.88L158.5 81.32L158.05 83.54L157.66 84.32L157.24 84.74L156.52 85.1L155.8 85.1L155.08 84.74L154.66 84.32L154.27 83.54L153.82 81.32L153.82 79.88L154.27 77.66L154.66 76.88L155.08 76.46ZM147.19 75.05L146.89 75.05L146.65 75.17L145.24 76.58L144.43 76.97L144.13 77.33L144.22 77.81L144.64 78.02L146.02 77.42L146.02 85.07L144.64 85.1L144.31 85.22L144.1 85.64L144.22 85.97L144.49 86.15L148.96 86.18L149.29 86.06L149.47 85.79L149.44 85.4L149.2 85.16L147.58 85.07L147.58 75.56L147.46 75.23ZM164.96 71.69L163.77 71.69L162.88 71.99L162.67 72.12L161.96 72.86L161.69 73.42L161.35 74.7L161.33 76.65L161.65 77.71L161.78 77.92L162.37 78.51L162.58 78.64L163.47 78.94L164.4 78.94L165.29 78.64L165.5 78.51L166.17 77.81L166.52 76.82L166.52 76.19L166.22 75.3L166.09 75.09L165.39 74.42L164.23 74.05L163.77 74.07L162.8 74.39L162.93 73.88L163.17 73.4L163.66 72.92L164.07 72.71L164.7 72.71L164.92 72.84L164.64 73.19L164.62 73.51L164.75 73.75L165.16 74.12L165.42 74.2L165.61 74.16L166.09 73.75L166.22 73.51L166.24 73.08L166.19 72.82L165.91 72.26L165.65 72ZM164.1 75.09L164.51 75.3L164.98 75.76L165.2 76.43L165.2 76.58L164.98 77.25L164.51 77.71L164.1 77.92L163.77 77.92L163.36 77.71L162.89 77.25L162.67 76.58L162.67 76.43L162.89 75.76L163.34 75.32Z"/>
<path d="M119.92 93.45L119.65 93.78L119.74 94.26L120.01 94.44L120.88 94.53L118.3 103.47L117.04 103.53L116.8 103.77L116.8 104.25L117.04 104.49L117.28 104.55L120.16 104.55L120.4 104.49L120.64 104.25L120.67 103.86L120.49 103.59L120.16 103.47L119.44 103.41L121.45 96.51L124.42 104.16L124.72 104.49L125.2 104.49L125.5 104.13L128.23 94.5L129.52 94.41L129.76 94.17L129.76 93.69L129.52 93.45L129.28 93.39L126.4 93.39L126.16 93.45L125.92 93.69L125.89 94.08L126.07 94.35L126.4 94.47L127.12 94.53L125.11 101.43L122.11 93.72L121.84 93.45L121.6 93.39ZM130.66 101.13L130.78 101.46L131.2 101.67L139.84 101.67L140.17 101.55L140.38 101.13L140.26 100.8L139.84 100.59L131.2 100.59L130.87 100.71ZM130.66 98.25L130.78 98.58L131.2 98.79L139.84 98.79L140.17 98.67L140.38 98.25L140.26 97.92L139.84 97.71L131.2 97.71L130.87 97.83ZM155.68 93.39L153.91 93.99L152.74 95.73L152.26 98.13L152.26 99.81L152.74 102.21L153.76 103.8L154.12 104.07L155.47 104.52L156.64 104.55L158.41 103.95L159.58 102.21L160.06 99.81L160.06 98.13L159.58 95.73L158.56 94.14L158.2 93.87L156.85 93.42ZM155.8 94.47L156.52 94.47L157.24 94.83L157.66 95.25L158.05 96.03L158.5 98.25L158.5 99.69L158.05 101.91L157.66 102.69L157.24 103.11L156.52 103.47L155.8 103.47L155.08 103.11L154.66 102.69L154.27 101.91L153.82 99.69L153.82 98.25L154.27 96.03L154.66 95.25L155.08 94.83ZM147.19 93.42L146.89 93.42L146.65 93.54L145.24 94.95L144.43 95.34L144.13 95.7L144.22 96.18L144.64 96.39L146.02 95.79L146.02 103.44L144.64 103.47L144.31 103.59L144.1 104.01L144.22 104.34L144.49 104.52L148.96 104.55L149.29 104.43L149.47 104.16L149.44 103.77L149.2 103.53L147.58 103.44L147.58 93.93L147.46 93.6ZM161.72 90.06L161.44 90.24L161.33 90.56L161.33 92.35L161.41 92.61L161.59 92.79L161.98 92.85L162.26 92.66L162.35 92.48L162.37 91.88L162.52 91.58L162.88 91.38L163.27 91.38L164.62 91.94L165.29 91.99L163.75 93.61L163.43 94.26L163.14 95.15L163.15 97L163.23 97.13L163.45 97.29L164.07 97.31L164.25 97.22L164.44 96.94L164.46 95.4L164.7 94.67L165.03 94.02L166.22 92.51L166.52 91.62L166.52 90.43L166.43 90.24L166.28 90.11L165.89 90.06L165.7 90.15L165.54 90.34L165.2 90.93L164.96 90.93L163.47 90.06L162.62 90.06L162.28 90.28L162.04 90.08Z"/>
</g>
<g>
<line x1="90.8" y1="48.8" x2="109.8" y2="48.8" stroke="#00ffff" stroke-width="1.8"/>
<line x1="90.8" y1="67.2" x2="109.8" y2="67.2" stroke="#0000ff" stroke-width="1.8"/>
<line x1="90.8" y1="85.5" x2="109.8" y2="85.5" stroke="#00ff00" stroke-width="1.8"/>
<line x1="90.8" y1="103.9" x2="109.8" y2="103.9" stroke="#ff0000" stroke-width="1.8"/>
</g>
<polygon points="53.8,137.0 65.0,138.2 71.9,143.2 76.3,143.8 83.2,148.2 85.6,150.6 92.5,160.0 98.8,167.6 106.3,175.1 112.5,182.5 128.2,198.2 150.0,201.0 165.2,202.8 205.0,191.0 220.1,185.7 238.9,181.9 250.0,178.2 276.6,171.5 300.0,167.0 332.5,160.5 351.1,156.6 369.7,152.3 388.3,150.9 406.9,149.6 414.0,148.5 425.5,147.6 425.5,156.9 400.0,159.8 388.0,160.3 370.0,161.3 350.0,166.0 332.0,168.5 313.7,171.5 295.0,175.0 276.6,178.2 258.0,183.0 239.5,189.5 220.1,193.6 205.0,198.8 165.2,210.5 155.0,209.1 128.2,205.1 109.4,187.5 102.6,179.5 96.3,173.2 90.0,165.7 83.8,155.7 81.3,153.8 76.9,150.9 71.9,149.4 66.3,145.0 62.5,143.2 53.8,142.8" fill="#00ffff"/>
<polygon points="54.0,136.00 72.5,136.10 91.1,138.77 109.7,144.23 128.3,151.43 146.8,160.62 165.4,169.11 184.0,174.32 202.6,176.30 221.1,176.30 239.7,175.49 258.3,172.42 276.9,168.22 295.5,164.67 314.0,161.38 332.6,158.44 351.2,156.69 369.8,153.69 388.3,152.10 406.9,151.05 425.5,150.15 425.5,152.45 406.9,153.75 388.3,155.10 369.8,156.71 351.2,159.71 332.6,161.56 314.0,164.62 295.5,167.93 276.9,171.38 258.3,175.38 239.7,178.31 221.1,179.10 202.6,179.10 184.0,177.08 165.4,171.89 146.8,163.38 128.3,154.17 109.7,146.77 91.1,141.03 72.5,138.10 54.0,138.00" fill="#0000ff"/>
<polygon points="54.0,135.00 72.5,135.00 72.5,136.00 54.0,136.00" fill="#00ff00" fill-opacity="0.5"/>
<polygon points="72.5,135.00 91.1,135.80 109.7,136.30 128.3,136.60 146.8,137.80 165.4,139.50 184.0,141.39 202.6,145.00 221.1,145.80 239.7,149.99 258.3,153.09 276.9,158.60 295.5,158.05 314.0,157.90 332.6,158.10 332.6,159.50 314.0,159.10 295.5,159.15 276.9,159.60 258.3,154.11 239.7,151.01 221.1,146.80 202.6,146.00 184.0,142.41 165.4,140.50 146.8,138.80 128.3,137.60 109.7,137.30 91.1,136.80 72.5,136.00" fill="#00ff00"/>
<polygon points="332.6,158.10 351.2,156.09 369.8,153.09 388.3,151.90 406.9,151.90 425.5,151.15 425.5,152.15 406.9,153.10 388.3,153.30 369.8,154.71 351.2,157.71 332.6,159.50" fill="#00ff00" fill-opacity="0.72"/>
<polyline points="54.0,135.5 72.5,135.5" fill="none" stroke="#ff0000" stroke-opacity="0.3" stroke-width="0.9"/>
<polyline points="72.5,135.5 91.1,136.2 109.7,135.6" fill="none" stroke="#ff0000" stroke-opacity="0.5" stroke-width="0.9" stroke-linejoin="round"/>
<polyline points="109.7,135.6 128.3,135.1 146.8,134.6 165.4,134.0 184.0,133.9 202.6,134.7 221.1,134.2 239.7,133.5 258.3,136.3 276.9,144.4 295.5,139.8 314.0,140.6 332.6,147.3 351.2,147.0 369.8,151.4 388.3,152.3 406.9,151.1 425.5,150.5" fill="none" stroke="#ff0000" stroke-width="0.9" stroke-linejoin="round"/>
<g stroke="#000" fill="none">
<line x1="53.330000000000005" y1="22.5" x2="426.02" y2="22.5" stroke-width="1"/>
<line x1="53.330000000000005" y1="285.28" x2="426.02" y2="285.28" stroke-width="1.25"/>
<line x1="53.95" y1="22.0" x2="53.95" y2="285.9" stroke-width="1.25"/>
<line x1="425.5" y1="22.0" x2="425.5" y2="285.9" stroke-width="1.05"/>
</g>
<path d="M53.95 285.25h7.6M425.50 285.25h-7.6M53.95 281.50h4.0M425.50 281.50h-4.0M53.95 277.74h4.0M425.50 277.74h-4.0M53.95 273.99h4.0M425.50 273.99h-4.0M53.95 270.24h4.0M425.50 270.24h-4.0M53.95 266.48h4.0M425.50 266.48h-4.0M53.95 262.73h4.0M425.50 262.73h-4.0M53.95 258.98h4.0M425.50 258.98h-4.0M53.95 255.22h4.0M425.50 255.22h-4.0M53.95 251.47h4.0M425.50 251.47h-4.0M53.95 247.71h7.6M425.50 247.71h-7.6M53.95 243.96h4.0M425.50 243.96h-4.0M53.95 240.21h4.0M425.50 240.21h-4.0M53.95 236.45h4.0M425.50 236.45h-4.0M53.95 232.70h4.0M425.50 232.70h-4.0M53.95 228.95h4.0M425.50 228.95h-4.0M53.95 225.19h4.0M425.50 225.19h-4.0M53.95 221.44h4.0M425.50 221.44h-4.0M53.95 217.69h4.0M425.50 217.69h-4.0M53.95 213.93h4.0M425.50 213.93h-4.0M53.95 210.18h7.6M425.50 210.18h-7.6M53.95 206.43h4.0M425.50 206.43h-4.0M53.95 202.67h4.0M425.50 202.67h-4.0M53.95 198.92h4.0M425.50 198.92h-4.0M53.95 195.16h4.0M425.50 195.16h-4.0M53.95 191.41h4.0M425.50 191.41h-4.0M53.95 187.66h4.0M425.50 187.66h-4.0M53.95 183.90h4.0M425.50 183.90h-4.0M53.95 180.15h4.0M425.50 180.15h-4.0M53.95 176.40h4.0M425.50 176.40h-4.0M53.95 172.64h7.6M425.50 172.64h-7.6M53.95 168.89h4.0M425.50 168.89h-4.0M53.95 165.14h4.0M425.50 165.14h-4.0M53.95 161.38h4.0M425.50 161.38h-4.0M53.95 157.63h4.0M425.50 157.63h-4.0M53.95 153.88h4.0M425.50 153.88h-4.0M53.95 150.12h4.0M425.50 150.12h-4.0M53.95 146.37h4.0M425.50 146.37h-4.0M53.95 142.61h4.0M425.50 142.61h-4.0M53.95 138.86h4.0M425.50 138.86h-4.0M53.95 135.11h7.6M425.50 135.11h-7.6M53.95 131.35h4.0M425.50 131.35h-4.0M53.95 127.60h4.0M425.50 127.60h-4.0M53.95 123.85h4.0M425.50 123.85h-4.0M53.95 120.09h4.0M425.50 120.09h-4.0M53.95 116.34h4.0M425.50 116.34h-4.0M53.95 112.59h4.0M425.50 112.59h-4.0M53.95 108.83h4.0M425.50 108.83h-4.0M53.95 105.08h4.0M425.50 105.08h-4.0M53.95 101.33h4.0M425.50 101.33h-4.0M53.95 97.57h7.6M425.50 97.57h-7.6M53.95 93.82h4.0M425.50 93.82h-4.0M53.95 90.06h4.0M425.50 90.06h-4.0M53.95 86.31h4.0M425.50 86.31h-4.0M53.95 82.56h4.0M425.50 82.56h-4.0M53.95 78.80h4.0M425.50 78.80h-4.0M53.95 75.05h4.0M425.50 75.05h-4.0M53.95 71.30h4.0M425.50 71.30h-4.0M53.95 67.54h4.0M425.50 67.54h-4.0M53.95 63.79h4.0M425.50 63.79h-4.0M53.95 60.04h7.6M425.50 60.04h-7.6M53.95 56.28h4.0M425.50 56.28h-4.0M53.95 52.53h4.0M425.50 52.53h-4.0M53.95 48.77h4.0M425.50 48.77h-4.0M53.95 45.02h4.0M425.50 45.02h-4.0M53.95 41.27h4.0M425.50 41.27h-4.0M53.95 37.51h4.0M425.50 37.51h-4.0M53.95 33.76h4.0M425.50 33.76h-4.0M53.95 30.01h4.0M425.50 30.01h-4.0M53.95 26.25h4.0M425.50 26.25h-4.0M53.95 22.50h7.6M425.50 22.50h-7.6M53.95 285.25v-5.2M53.95 22.50v5.2M72.53 285.25v-2.9M72.53 22.50v2.9M91.11 285.25v-2.9M91.11 22.50v2.9M109.68 285.25v-2.9M109.68 22.50v2.9M128.26 285.25v-5.2M128.26 22.50v5.2M146.84 285.25v-2.9M146.84 22.50v2.9M165.42 285.25v-2.9M165.42 22.50v2.9M183.99 285.25v-2.9M183.99 22.50v2.9M202.57 285.25v-5.2M202.57 22.50v5.2M221.15 285.25v-2.9M221.15 22.50v2.9M239.73 285.25v-2.9M239.73 22.50v2.9M258.30 285.25v-2.9M258.30 22.50v2.9M276.88 285.25v-5.2M276.88 22.50v5.2M295.46 285.25v-2.9M295.46 22.50v2.9M314.03 285.25v-2.9M314.03 22.50v2.9M332.61 285.25v-2.9M332.61 22.50v2.9M351.19 285.25v-5.2M351.19 22.50v5.2M369.77 285.25v-2.9M369.77 22.50v2.9M388.34 285.25v-2.9M388.34 22.50v2.9M406.92 285.25v-2.9M406.92 22.50v2.9M425.50 285.25v-5.2M425.50 22.50v5.2" stroke="#000" stroke-width="1.0" fill="none"/>
</svg>
</body></html>
